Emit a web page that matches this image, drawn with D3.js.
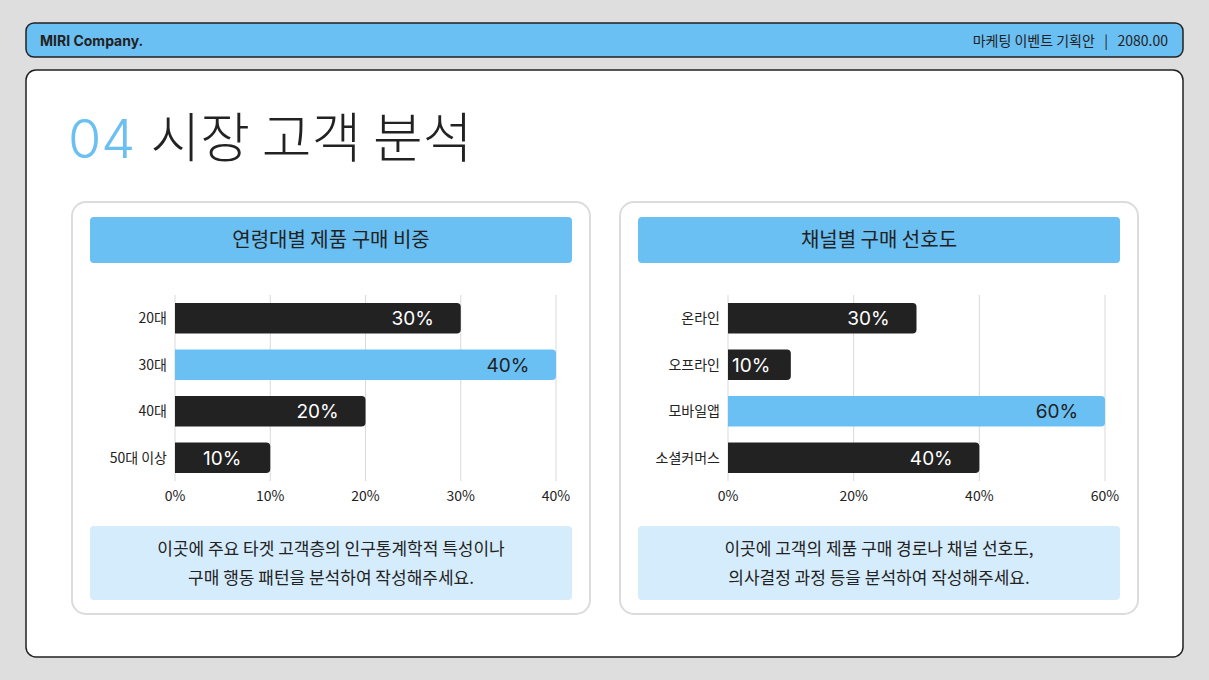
<!DOCTYPE html>
<html><head><meta charset="utf-8">
<script src="https://cdn.jsdelivr.net/npm/d3@7"></script>
<style>body{margin:0;background:#dedede;} svg{display:block;font-family:"Noto Sans CJK KR","Noto Sans",sans-serif;}</style>
</head><body>
<div id="chart"></div>
<script>
const ageCategories = ['20대', '30대', '40대', '50대 이상'];
const ageValues = [30, 40, 20, 10];
const ageTicks = [0, 10, 20, 30, 40];
const channelCategories = ['온라인', '오프라인', '모바일앱', '소셜커머스'];
const channelValues = [30, 10, 60, 40];
const channelTicks = [0, 20, 40, 60];

const blue = '#6abff3', dark = '#222222';
const svg = d3.select('#chart').append('svg').attr('width', 1209).attr('height', 680);
svg.append('rect').attr('width', 1209).attr('height', 680).attr('fill', '#dedede');

// 헤더
svg.append('rect').attr('x', 26).attr('y', 23).attr('width', 1157).attr('height', 34).attr('rx', 8)
  .attr('fill', blue).attr('stroke', dark).attr('stroke-width', 1.5);
svg.append('text').attr('x', 40).attr('y', 45.5).attr('font-size', 14).attr('font-weight', 700)
  .attr('font-family', 'Inter, sans-serif').attr('fill', dark).text('MIRI Company.');
svg.append('text').attr('x', 1168).attr('y', 45.5).attr('text-anchor', 'end').attr('font-size', 14)
  .attr('fill', dark).text('마케팅 이벤트 기획안   |   2080.00').style('white-space', 'pre');

// 본문 패널
svg.append('rect').attr('x', 26).attr('y', 70).attr('width', 1157).attr('height', 587).attr('rx', 10)
  .attr('fill', '#fff').attr('stroke', dark).attr('stroke-width', 1.5);
const title = svg.append('text').attr('x', 68).attr('y', 158).attr('font-size', 54).attr('font-weight', 300);
title.append('tspan').attr('fill', blue).attr('font-family', 'Inter, sans-serif').text('04 ');
title.append('tspan').attr('fill', dark).text('시장 고객 분석');

function card(x0, heading, cats, vals, ticks, axis, note) {
  svg.append('rect').attr('x', x0).attr('y', 202).attr('width', 518).attr('height', 412).attr('rx', 14)
    .attr('fill', '#fff').attr('stroke', '#dcdcdc').attr('stroke-width', 2);
  svg.append('rect').attr('x', x0 + 18).attr('y', 217).attr('width', 482).attr('height', 46).attr('rx', 4)
    .attr('fill', blue);
  svg.append('text').attr('x', x0 + 259).attr('y', 247).attr('text-anchor', 'middle').attr('font-size', 20)
    .attr('fill', dark).text(heading);

  const x = d3.scaleLinear().domain([0, d3.max(ticks)]).range([axis[0], axis[1]]);
  const y = d3.scaleBand().domain(cats).range([295, 481]).paddingInner(0.34).paddingOuter(0.17);
  const g = svg.append('g');
  g.selectAll('line.grid').data(ticks).join('line').attr('class', 'grid')
    .attr('x1', d => x(d)).attr('x2', d => x(d)).attr('y1', 295).attr('y2', 481)
    .attr('stroke', '#d9d9d9').attr('stroke-width', 1);
  g.selectAll('text.tick').data(ticks).join('text').attr('class', 'tick')
    .attr('x', d => x(d)).attr('y', 501).attr('text-anchor', 'middle').attr('font-size', 14)
    .attr('fill', dark).text(d => d + '%');
  g.selectAll('text.cat').data(cats).join('text').attr('class', 'cat')
    .attr('x', axis[0] - 8).attr('y', d => y(d) + y.bandwidth() / 2 + 5).attr('text-anchor', 'end')
    .attr('font-size', 14).attr('fill', dark).text(d => d);
  const maxV = d3.max(vals);
  g.selectAll('path.bar').data(vals).join('path').attr('class', 'bar')
    .attr('d', (d, i) => {
      const x1 = x(0), x2 = x(d), y1 = y(cats[i]), h = y.bandwidth(), r = 4;
      return `M${x1},${y1}H${x2 - r}Q${x2},${y1} ${x2},${y1 + r}V${y1 + h - r}Q${x2},${y1 + h} ${x2 - r},${y1 + h}H${x1}Z`;
    })
    .attr('fill', d => d === maxV ? blue : dark);
  g.selectAll('text.val').data(vals).join('text').attr('class', 'val')
    .attr('x', d => (x(d) - x(0)) < 70 ? x(0) + 4 : x(d) - 48)
    .attr('text-anchor', d => (x(d) - x(0)) < 70 ? 'start' : 'middle')
    .attr('y', (d, i) => y(cats[i]) + y.bandwidth() / 2 + 7)
    .attr('font-size', 19).attr('font-family', 'Inter, sans-serif')
    .attr('fill', d => d === maxV ? dark : '#fff').text(d => d + '%');

  svg.append('rect').attr('x', x0 + 18).attr('y', 526).attr('width', 482).attr('height', 74).attr('rx', 4)
    .attr('fill', '#d5ecfc');
  svg.append('text').attr('text-anchor', 'middle').attr('font-size', 17).attr('fill', dark)
    .selectAll('tspan').data(note).join('tspan')
    .attr('x', x0 + 259).attr('y', (d, i) => 555 + i * 29).text(d => d);
}

card(72, '연령대별 제품 구매 비중', ageCategories, ageValues, ageTicks, [175, 556],
  ['이곳에 주요 타겟 고객층의 인구통계학적 특성이나', '구매 행동 패턴을 분석하여 작성해주세요.']);
card(620, '채널별 구매 선호도', channelCategories, channelValues, channelTicks, [728, 1105],
  ['이곳에 고객의 제품 구매 경로나 채널 선호도,', '의사결정 과정 등을 분석하여 작성해주세요.']);
</script>
</body></html>
